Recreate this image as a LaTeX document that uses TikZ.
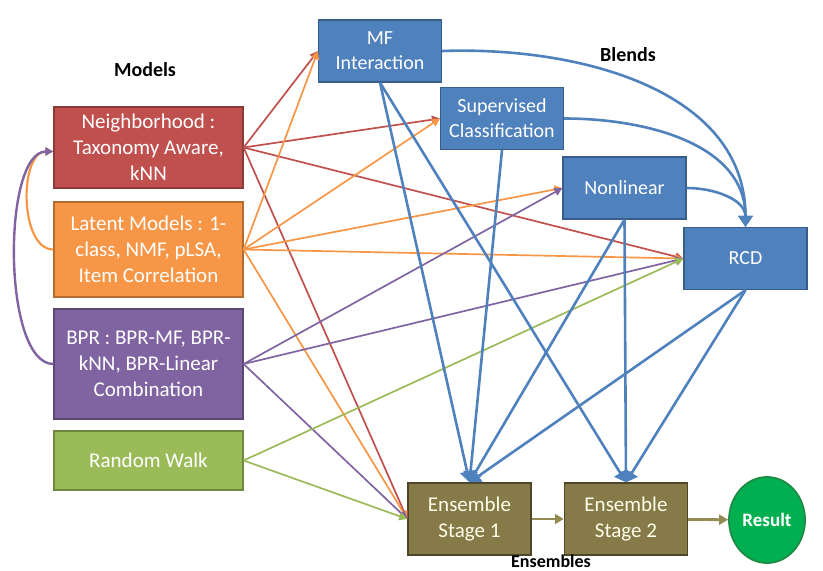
\documentclass[tikz,border=0pt]{standalone}
\usepackage{fontspec}
\setmainfont{Carlito}
\usepackage{xcolor}
\usepackage{tikz}
\usetikzlibrary{arrows.meta,shapes.geometric}
\definecolor{nbhred}{HTML}{C0504D}
\definecolor{latorange}{HTML}{F79646}
\definecolor{bprpurple}{HTML}{8064A2}
\definecolor{rwgreen}{HTML}{9BBB59}
\definecolor{blendblue}{HTML}{4F81BD}
\definecolor{blendedge}{HTML}{385D8A}
\definecolor{ensfill}{HTML}{857A48}
\definecolor{ensedge}{HTML}{4D4628}
\definecolor{ensline}{HTML}{948A54}
\definecolor{resgreen}{HTML}{00B050}
\definecolor{resedge}{HTML}{1E8C45}

\begin{document}
\begin{tikzpicture}[x=1pt, y=-1pt, >={Triangle[length=8pt,width=8pt]}]
  \tikzset{model/.style={draw=#1!72!black, fill=#1, line width=1.2pt, minimum width=189pt,
             align=center, text=white, font=\fontsize{21}{26}\selectfont},
           blend/.style={draw=blendedge, fill=blendblue, line width=1.2pt, minimum width=123pt,
             minimum height=62pt, align=center, text=white, font=\fontsize{20}{25}\selectfont},
           ens/.style={draw=ensedge, fill=ensfill, line width=1.4pt, minimum width=123pt,
             minimum height=72pt, align=center, text=white!92!yellow, font=\fontsize{21}{26}\selectfont},
           grp/.style={font=\fontsize{20}{22}\selectfont\bfseries},
           feed/.style={->, line width=1.7pt, draw=#1},
           blendarr/.style={-{Triangle[length=11pt,width=14pt]}, line width=2.6pt, draw=blendblue},
           ensarr/.style={-{Triangle[length=9pt,width=10pt]}, line width=2.8pt, draw=ensline}}
  \useasboundingbox (0,0) rectangle (823,571);

  % models
  \node[grp] (lmod) at (145,70) {Models};
  \node[model=nbhred,    minimum height=81pt]  (nbh) at (148.5,147.5) {Neighborhood :\\Taxonomy Aware,\\kNN};
  \node[model=latorange, minimum height=95pt]  (lat) at (148.5,249.5) {Latent Models : 1-\\class, NMF, pLSA,\\Item Correlation};
  \node[model=bprpurple, minimum height=110pt] (bpr) at (148.5,364)   {BPR : BPR-MF, BPR-\\kNN, BPR-Linear\\Combination};
  \node[model=rwgreen,   minimum height=59pt]  (rw)  at (148.5,460.5) {Random Walk};

  % blends
  \node[grp] (lbl) at (628,55) {Blends};
  \node[blend] (mf)  at (380,51)      {MF\\Interaction};
  \node[blend] (sup) at (502,118.5)   {Supervised\\Classification};
  \node[blend] (nl)  at (624.5,188)   {Nonlinear};
  \node[blend] (rcd) at (745.5,258.5) {RCD};

  % ensembles
  \node[ens] (e1) at (469.5,519) {Ensemble\\Stage 1};
  \node[ens] (e2) at (626,519)   {Ensemble\\Stage 2};
  \node[ellipse, draw=resedge, fill=resgreen, line width=1.8pt, minimum width=76pt, minimum height=86pt,
        inner sep=1pt, text=white, font=\fontsize{19}{22}\selectfont\bfseries] (res) at (767,520) {Result};
  \node[anchor=base, inner sep=0pt, font=\fontsize{18}{20}\selectfont\bfseries] (lens) at (551,567) {Ensembles};

  % models feeding blends and stage 1
  \draw[feed=nbhred] (nbh.east) -- (mf.west);
  \draw[feed=nbhred] (nbh.east) -- (sup.west);
  \draw[feed=nbhred] (nbh.east) -- (rcd.west);
  \draw[feed=nbhred] (nbh.east) -- (e1.west);
  \draw[feed=latorange] (lat.east) -- (mf.west);
  \draw[feed=latorange] (lat.east) -- (sup.west);
  \draw[feed=latorange] (lat.east) -- (nl.west);
  \draw[feed=latorange] (lat.east) -- (rcd.west);
  \draw[feed=latorange] (lat.east) -- (e1.west);
  \draw[feed=bprpurple] (bpr.east) -- (nl.west);
  \draw[feed=bprpurple] (bpr.east) -- (rcd.west);
  \draw[feed=bprpurple] (bpr.east) -- (e1.west);
  \draw[feed=rwgreen] (rw.east) -- (rcd.west);
  \draw[feed=rwgreen] (rw.east) -- (e1.west);

  % loops back into the neighborhood model
  \draw[feed=latorange, line width=2.2pt] (lat.west) to[out=180, in=180, looseness=0.9] ([yshift=-4pt]nbh.west);
  \draw[feed=bprpurple, line width=2.4pt] (bpr.west) to[out=180, in=180, looseness=0.62] ([yshift=-4pt]nbh.west);

  % blends into RCD
  \draw[blendarr] (mf.east) to[out=2, in=90] (rcd.north);
  \draw[blendarr] (sup.east) to[out=0, in=90] (rcd.north);
  \draw[blendarr] (nl.east) to[out=0, in=90] (rcd.north);

  % blends into the ensembles
  \draw[blendarr] (mf.south) -- (e1.north);
  \draw[blendarr] (mf.south) -- (e2.north);
  \draw[blendarr] (sup.south) -- (e1.north);
  \draw[blendarr] (nl.south) -- (e1.north);
  \draw[blendarr] (nl.south) -- (e2.north);
  \draw[blendarr] (rcd.south) -- (e1.north);
  \draw[blendarr] (rcd.south) -- (e2.north);

  \draw[ensarr] (e1) -- (e2);
  \draw[ensarr] (e2) -- (res);
\end{tikzpicture}
\end{document}
